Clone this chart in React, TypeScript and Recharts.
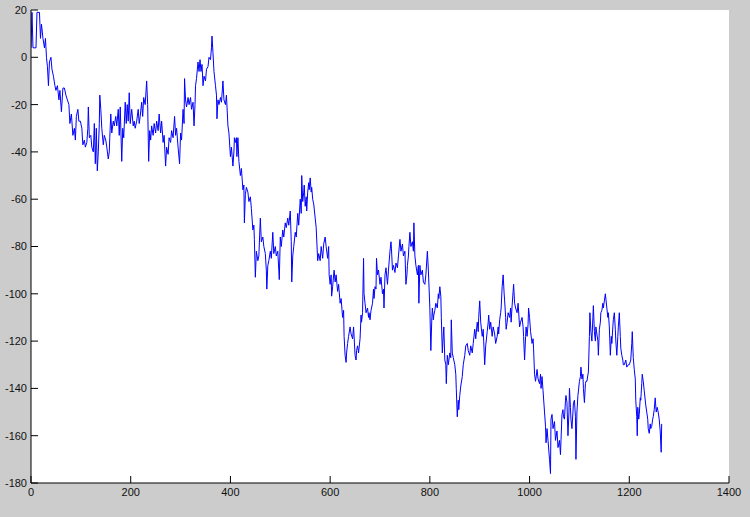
import React from 'react';
import { LineChart, Line, XAxis, YAxis, CartesianGrid } from 'recharts';

// [sample index, position], split by x range
const walkA: [number, number][] = [
  [0, 4], [2, 19], [4, 4], [10, 4], [12, 19], [17, 19], [19, 8], [21, 14], [24, 8], [27, 4],
  [29, 8], [31, 0], [33, -4], [35, -12], [37, -2], [40, 0], [42, -5], [45, -8], [48, -12], [50, -14],
  [53, -12], [56, -18], [58, -14], [61, -23], [64, -13], [67, -13], [70, -16], [73, -18], [76, -20], [78, -28],
  [81, -24], [84, -33], [87, -30], [89, -35], [91, -25], [94, -22], [96, -27], [99, -27], [102, -30], [104, -37],
  [107, -35], [109, -38], [112, -36], [114, -30], [115, -21], [117, -34], [120, -33], [122, -38], [125, -40], [127, -28],
  [129, -45], [131, -30], [133, -48], [135, -40], [137, -28], [138, -16], [140, -22], [142, -30], [145, -37], [147, -33],
  [150, -35], [152, -38], [155, -43], [157, -40], [158, -34], [160, -24], [162, -32], [165, -27], [167, -29], [170, -25],
  [172, -29], [175, -22], [177, -33], [179, -21], [182, -44], [184, -30], [186, -34], [189, -19], [191, -28], [193, -20],
  [195, -27], [197, -15], [199, -28], [202, -22], [205, -29], [207, -27], [209, -30], [212, -27], [215, -22], [217, -28],
  [219, -25], [222, -19], [224, -25], [226, -17], [229, -20], [232, -10], [234, -20], [236, -44], [238, -31], [240, -35],
  [242, -29], [245, -33], [247, -28], [250, -32], [252, -27], [255, -31], [257, -24], [260, -32], [262, -27], [265, -36],
  [267, -33], [270, -46], [272, -38], [275, -41], [277, -34], [280, -36], [282, -31], [285, -34], [288, -25], [290, -33],
  [292, -30], [295, -38], [298, -45], [300, -32], [302, -35], [305, -22], [307, -28], [308, -9], [310, -18], [312, -21],
  [315, -17], [317, -20], [320, -17], [322, -22], [325, -19], [327, -29], [329, -20], [330, -12], [332, -9], [335, -2],
  [337, -6], [339, -1], [341, -6], [343, -3], [345, -12], [347, -8], [350, -10], [352, -5], [355, -4], [357, 0],
  [360, -1], [362, 4], [363, 9], [365, 2], [367, -6], [370, -12], [372, -16], [373, -26], [375, -18], [377, -20],
  [380, -17], [382, -19], [385, -10], [387, -18], [390, -20], [392, -16], [395, -29], [397, -32],
];

const walkB: [number, number][] = [
  [400, -42], [402, -38], [405, -46], [407, -40], [408, -34], [410, -36], [412, -34], [413, -42], [415, -34], [417, -44],
  [420, -50], [422, -47], [425, -56], [427, -54], [428, -70], [430, -58], [432, -55], [435, -57], [437, -61], [440, -59],
  [442, -64], [445, -73], [447, -71], [448, -77], [450, -93], [452, -82], [455, -86], [457, -84], [460, -68], [462, -78],
  [465, -76], [467, -80], [470, -83], [472, -90], [473, -98], [475, -88], [477, -86], [480, -82], [482, -85], [485, -74],
  [487, -83], [490, -80], [492, -84], [495, -82], [497, -90], [498, -94], [500, -76], [502, -80], [505, -73], [507, -76],
  [510, -70], [512, -72], [515, -68], [517, -71], [520, -65], [522, -78], [523, -95], [525, -84], [527, -80], [530, -74],
  [532, -76], [535, -66], [537, -71], [540, -60], [542, -66], [543, -50], [545, -61], [547, -57], [548, -54], [550, -63],
  [552, -59], [553, -65], [555, -57], [557, -53], [558, -56], [560, -51], [562, -57], [563, -55], [565, -60], [567, -62],
  [570, -68], [572, -72], [575, -86], [577, -83], [580, -86], [582, -80], [585, -85], [587, -79], [590, -76], [592, -80],
  [595, -85], [597, -80], [598, -92], [600, -96], [602, -92], [603, -101], [605, -97], [607, -92], [608, -90], [610, -95],
  [612, -92], [615, -99], [617, -96], [620, -104], [622, -102], [625, -110], [627, -107], [628, -118], [630, -126], [632, -129],
  [633, -125], [635, -121], [637, -118], [640, -114], [642, -117], [645, -119], [647, -114], [650, -126], [652, -128], [653, -124],
  [655, -122], [657, -125], [660, -119], [662, -109], [663, -112], [665, -108], [667, -85], [668, -100], [670, -104], [672, -108],
  [675, -106], [677, -110], [678, -108], [680, -111], [682, -107], [685, -104], [687, -98], [688, -102], [690, -97], [692, -98],
  [693, -85], [695, -92], [697, -90], [700, -96], [702, -93], [705, -100], [707, -98], [708, -106], [710, -92], [712, -89],
  [715, -96], [717, -90], [720, -82], [722, -78], [723, -81], [725, -90], [727, -88], [730, -91], [732, -87], [735, -89],
  [737, -84], [740, -77], [742, -82], [745, -79], [747, -84], [750, -82], [752, -96], [754, -92], [755, -88], [757, -84],
  [758, -80], [760, -74], [762, -80], [765, -78], [767, -82], [768, -70], [770, -84], [772, -88], [775, -92], [777, -88],
  [778, -104], [780, -88], [782, -92], [785, -90], [787, -95], [790, -96], [792, -92], [795, -82], [797, -90],
];

const walkC: [number, number][] = [
  [800, -106], [802, -124], [804, -110], [805, -106], [807, -111], [808, -109], [810, -107], [812, -104], [815, -106], [817, -100],
  [818, -102], [820, -97], [822, -101], [823, -110], [825, -125], [827, -117], [828, -114], [830, -128], [832, -130], [833, -138],
  [835, -126], [837, -130], [840, -125], [842, -127], [843, -111], [845, -125], [847, -127], [850, -130], [852, -134], [853, -140],
  [855, -152], [857, -145], [858, -149], [860, -143], [862, -139], [865, -135], [867, -130], [870, -126], [872, -122], [875, -121],
  [877, -124], [880, -126], [882, -122], [885, -125], [887, -121], [890, -115], [892, -119], [895, -112], [897, -116], [898, -110],
  [900, -103], [902, -112], [905, -118], [907, -115], [908, -120], [910, -130], [912, -122], [915, -116], [917, -112], [918, -109],
  [920, -115], [922, -112], [925, -118], [927, -114], [930, -117], [932, -121], [935, -118], [937, -114], [938, -117], [940, -111],
  [942, -108], [943, -106], [945, -97], [947, -92], [949, -100], [950, -103], [952, -110], [953, -115], [955, -112], [957, -108],
  [960, -110], [962, -106], [963, -112], [965, -105], [967, -99], [968, -96], [970, -104], [972, -106], [975, -108], [977, -104],
  [980, -114], [982, -112], [985, -110], [987, -114], [988, -118], [990, -128], [992, -118], [993, -114], [995, -118], [997, -113],
  [998, -106], [1000, -110], [1002, -116], [1005, -121], [1007, -119], [1008, -123], [1010, -134], [1012, -137], [1015, -132], [1017, -136],
  [1020, -138], [1022, -134], [1023, -140], [1025, -135], [1027, -141], [1030, -150], [1032, -156], [1033, -163], [1035, -157], [1037, -162],
  [1040, -170], [1042, -176], [1043, -153], [1045, -151], [1047, -157], [1050, -154], [1052, -162], [1055, -158], [1057, -165], [1060, -162],
  [1062, -168], [1065, -151], [1067, -149], [1068, -152], [1070, -153], [1072, -145], [1073, -143], [1075, -146], [1077, -160], [1079, -150],
  [1080, -140], [1082, -148], [1083, -153], [1085, -157], [1087, -150], [1088, -146], [1090, -145], [1092, -152], [1093, -170], [1095, -150],
  [1097, -143], [1100, -137], [1102, -135], [1103, -131], [1105, -136], [1107, -134], [1108, -140], [1110, -146], [1112, -138], [1113, -137],
  [1115, -137], [1118, -133], [1120, -118], [1121, -108], [1123, -116], [1125, -120], [1127, -110], [1128, -105], [1130, -116], [1132, -120],
  [1133, -114], [1135, -117], [1137, -120], [1138, -126], [1140, -115], [1142, -112], [1143, -108], [1145, -107], [1147, -104], [1148, -106],
  [1150, -103], [1152, -100], [1155, -106], [1157, -110], [1158, -108], [1160, -114], [1162, -126], [1164, -118], [1165, -121], [1167, -114],
  [1168, -111], [1170, -108], [1172, -115], [1173, -120], [1175, -126], [1177, -118], [1178, -114], [1180, -108], [1182, -118], [1183, -123],
  [1185, -126], [1187, -128], [1188, -130], [1190, -130], [1193, -128], [1195, -131], [1198, -130], [1200, -130], [1203, -128], [1205, -121],
  [1206, -116], [1208, -127], [1210, -132], [1212, -136], [1213, -145], [1215, -152], [1216, -160], [1217, -148], [1219, -153], [1220, -151],
  [1222, -144], [1223, -145], [1225, -138], [1226, -134], [1228, -137], [1230, -141], [1233, -147], [1235, -150], [1237, -153], [1238, -157],
  [1240, -159], [1242, -155], [1243, -157], [1245, -156], [1247, -153], [1248, -152], [1250, -149], [1252, -144], [1254, -150], [1256, -148],
  [1258, -150], [1260, -153], [1262, -158], [1264, -167], [1265, -155],
];

const xTicks = [0, 200, 400, 600, 800, 1000, 1200, 1400];
const yTicks = [-180, -160, -140, -120, -100, -80, -60, -40, -20, 0, 20];

const data = [...walkA, ...walkB, ...walkC].map(([t, v]) => ({ t, v }));

const tickFont = { fontFamily: 'Liberation Sans, Arial, sans-serif', fontSize: 11, fill: '#111' };
const noLabel = () => <g />;

export default function App() {
  return (
    <div style={{ position: 'absolute', left: 0, top: 0, width: 750, height: 517, background: '#cccccc' }}>
      <LineChart width={750} height={517} data={data} margin={{ top: 10, right: 21, bottom: 0, left: 0 }}>
        <CartesianGrid horizontal={false} vertical={false} fill="#ffffff" />
        <XAxis
          dataKey="t"
          type="number"
          domain={[0, 1400]}
          ticks={xTicks}
          allowDataOverflow
          height={34}
          tickSize={-7}
          tickMargin={12}
          stroke="#000"
          tick={tickFont}
        />
        <XAxis
          xAxisId="top"
          orientation="top"
          type="number"
          domain={[0, 1400]}
          ticks={xTicks}
          allowDataOverflow
          height={0}
          tickSize={-7}
          stroke="#000"
          tick={noLabel}
        />
        <YAxis
          type="number"
          domain={[-180, 20]}
          ticks={yTicks}
          allowDataOverflow
          width={31}
          tickSize={-7}
          tickMargin={11}
          stroke="#000"
          tick={tickFont}
        />
        <YAxis
          yAxisId="right"
          orientation="right"
          type="number"
          domain={[-180, 20]}
          ticks={yTicks}
          allowDataOverflow
          width={0}
          tickSize={-7}
          stroke="#000"
          tick={noLabel}
        />
        <Line
          dataKey="v"
          type="linear"
          stroke="#0000ff"
          strokeWidth={1}
          dot={false}
          isAnimationActive={false}
        />
      </LineChart>
    </div>
  );
}
